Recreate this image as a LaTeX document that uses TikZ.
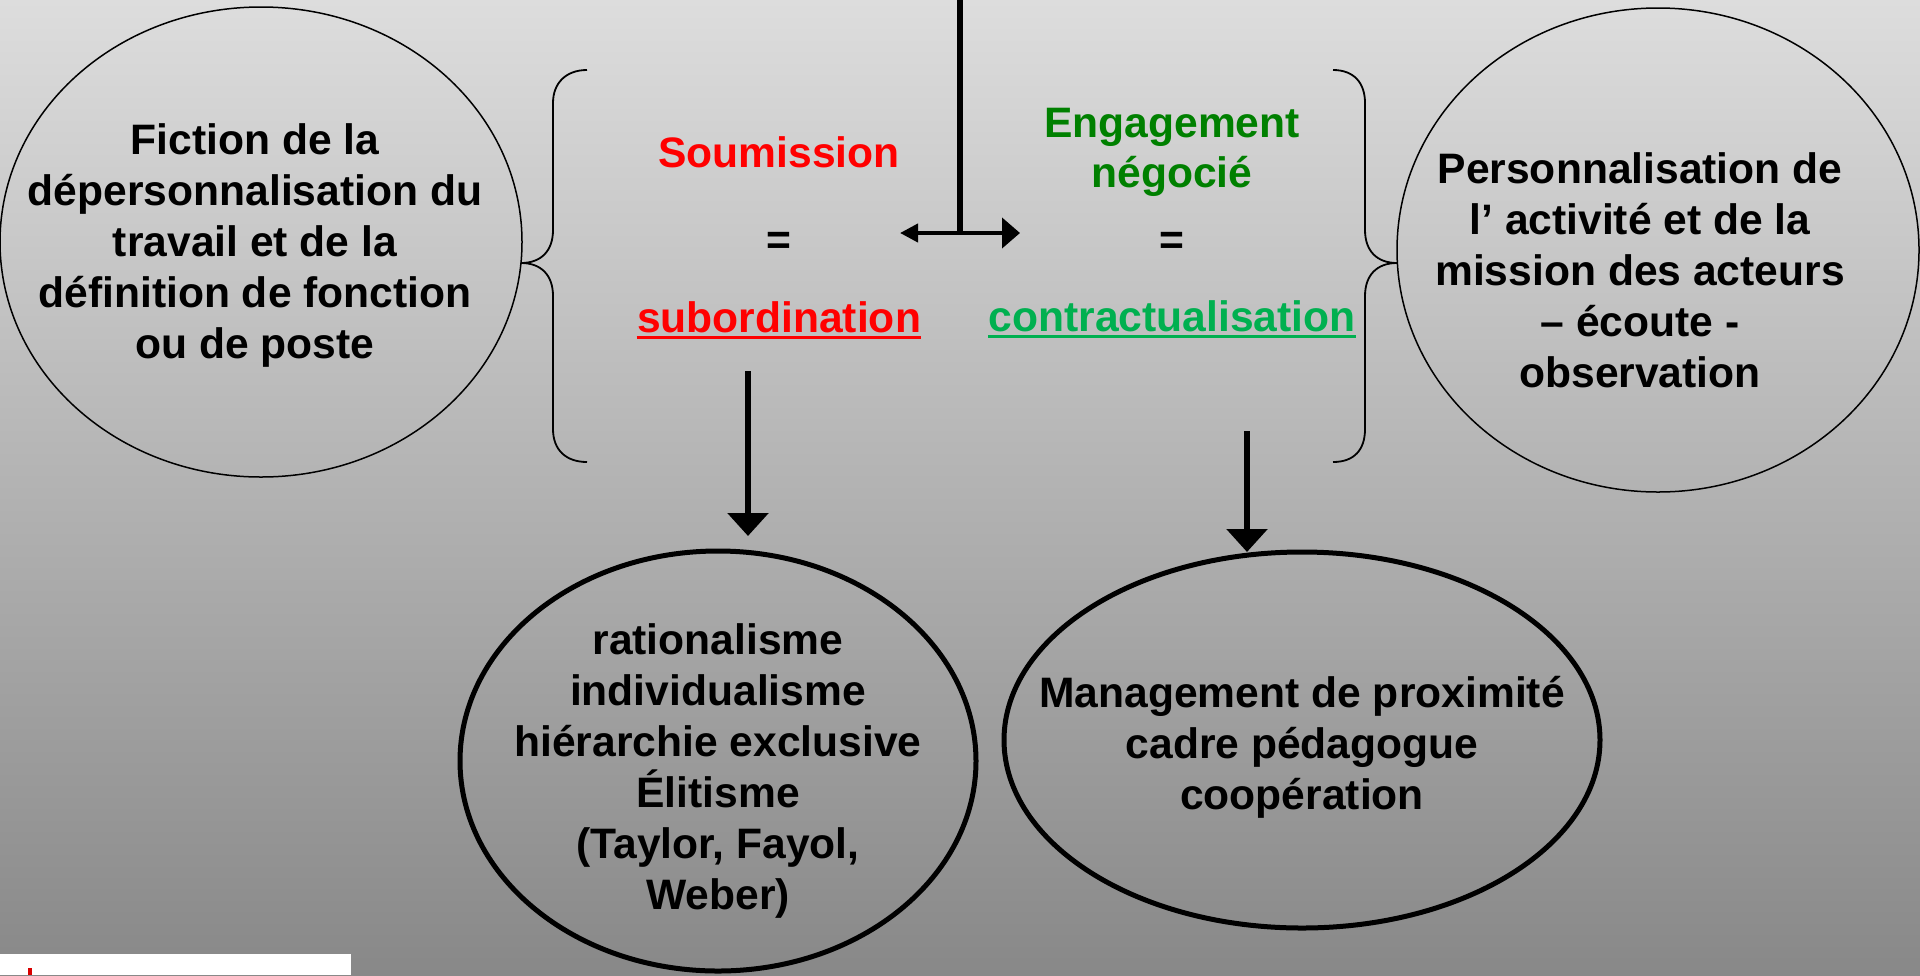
\documentclass[tikz,border=0pt]{standalone}
\usepackage{fontspec}
\setmainfont{Liberation Sans}
\usetikzlibrary{shapes.geometric,arrows.meta}
\definecolor{rouge}{RGB}{255,0,0}
\definecolor{vertfonce}{RGB}{0,128,0}
\definecolor{vertclair}{RGB}{0,176,80}
\definecolor{fondhaut}{RGB}{221,221,221}
\definecolor{fondbas}{RGB}{136,136,136}

\begin{document}
\begin{tikzpicture}[x=0.5pt,y=-0.5pt,
    bulle/.style={draw, ellipse, inner sep=0pt, line width=0.75pt},
    grossebulle/.style={bulle, line width=2.5pt},
    txt/.style={align=center, inner sep=0pt, font=\fontsize{21.3pt}{25.5pt}\selectfont\bfseries},
    fleche/.style={line width=3pt, -{Triangle[length=11.5pt,width=20pt]}}]
  \useasboundingbox (0,0) rectangle (1920,975);
  \shade[top color=fondhaut, bottom color=fondbas] (0,0) rectangle (1920,975);
  \fill[white] (0,954) rectangle (351,975);
  \fill[red!85!black] (28,968) rectangle (32,975);

  % les deux bulles du haut
  \node[bulle, minimum width=261pt, minimum height=235pt] (fiction) at (261,242) {};
  \node[txt] (fictiontxt) at (255,245) {Fiction de la\\ dépersonnalisation du\\ travail et de la\\ définition de fonction\\ ou de poste};
  \node[bulle, minimum width=261pt, minimum height=242pt] (perso) at (1658,250) {};
  \node[txt] (persotxt) at (1640,270) {Personnalisation de\\ l’ activité et de la\\ mission des acteurs\\ – écoute -\\ observation};

  % accolades
  \draw[line width=0.9pt] (587,70) .. controls (566,70) and (553,83) .. (553,103) -- (553,230)
    .. controls (553,251) and (541,263) .. (521,263)
    .. controls (541,263) and (553,275) .. (553,296) -- (553,429)
    .. controls (553,450) and (566,462) .. (587,462);
  \draw[line width=0.9pt] (1333,70) .. controls (1354,70) and (1365,83) .. (1365,103) -- (1365,230)
    .. controls (1365,251) and (1377,263) .. (1397,263)
    .. controls (1377,263) and (1365,275) .. (1365,296) -- (1365,429)
    .. controls (1365,450) and (1354,462) .. (1333,462);

  % textes du milieu
  \node[txt, anchor=base, text=rouge] (soum) at (779,167) {Soumission};
  \node[txt, anchor=base] (egal1) at (779,254) {=};
  \node[txt, anchor=base, text=rouge] (subo) at (779,332) {subordination};
  \draw[rouge, line width=1.5pt] ([yshift=-2.7pt]subo.base west) -- ([yshift=-2.7pt]subo.base east);
  \node[txt, anchor=base, text=vertfonce] (enga) at (1172,137) {Engagement};
  \node[txt, anchor=base, text=vertfonce] (nego) at (1172,187) {négocié};
  \node[txt, anchor=base] (egal2) at (1172,254) {=};
  \node[txt, anchor=base, text=vertclair] (contr) at (1172,331) {contractualisation};
  \draw[vertclair, line width=1.5pt] ([yshift=-2.7pt]contr.base west) -- ([yshift=-2.7pt]contr.base east);

  % fleche du haut
  \coordinate (haut) at (960,0);
  \coordinate (jonction) at (960,233);
  \coordinate (gauche) at (900,233);
  \coordinate (droite) at (1020,233);
  \draw[line width=3.4pt] (haut) -- (jonction);
  \draw[line width=2pt, {Triangle[length=9pt,width=9pt]}-{Triangle[length=9pt,width=15pt]}] (gauche) -- (droite);

  % bulles du bas
  \node[grossebulle, minimum width=258pt, minimum height=210pt] (ratio) at (718,761) {};
  \node[txt] (ratiotxt) at (718,771) {rationalisme\\ individualisme\\ hiérarchie exclusive\\ Élitisme\\ (Taylor, Fayol,\\ Weber)};
  \node[grossebulle, minimum width=298pt, minimum height=188pt] (manag) at (1302,740) {};
  \node[txt] (managtxt) at (1302,747) {Management de proximité\\ cadre pédagogue\\ coopération};

  \coordinate (d1) at (748,371);
  \coordinate (f1) at (748,536);
  \coordinate (d2) at (1247,431);
  \coordinate (f2) at (1247,552);
  \draw[fleche] (d1) -- (f1);
  \draw[fleche] (d2) -- (f2);
\end{tikzpicture}
\end{document}
